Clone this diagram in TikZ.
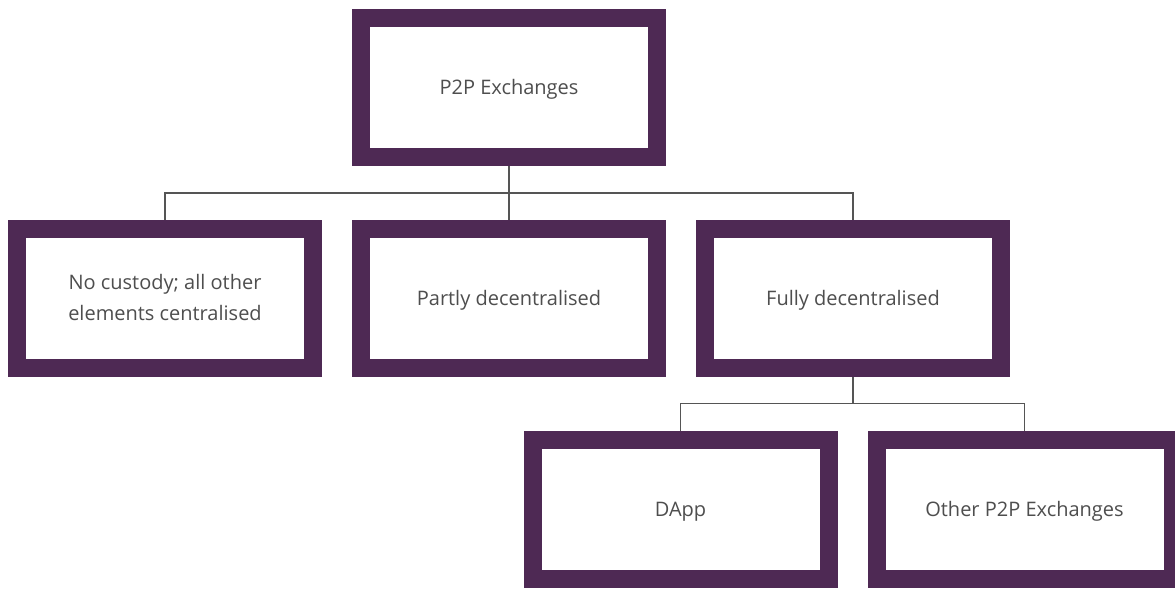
\documentclass[tikz,border=0pt]{standalone}
\usepackage{fontspec}
\setmainfont{Open Sans}
\usetikzlibrary{backgrounds}
\definecolor{boxpurple}{RGB}{78,41,84}
\definecolor{txtgray}{RGB}{78,78,78}
\definecolor{linegray}{RGB}{85,85,85}
\begin{document}
\begin{tikzpicture}[x=1pt,y=-1pt,
  orgbox/.style={draw=boxpurple, line width=18pt, fill=white, minimum width=296pt, minimum height=139pt, inner sep=0pt, align=center, text=txtgray, font=\fontsize{20}{31.5}\selectfont, text height=14.3pt, text depth=0pt},
  twoline/.style={text height=45.8pt},
  conn/.style={draw=linegray, line width=1.3pt}]
\useasboundingbox[clip] (0,0) rectangle (1175,589);
\node[orgbox] (top) at (509,87.5) {P2P Exchanges};
\node[orgbox, twoline] (b1) at (165,298) {No custody; all other\\elements centralised};
\node[orgbox] (b2) at (509,298) {Partly decentralised};
\node[orgbox] (b3) at (853,298) {Fully decentralised};
\node[orgbox] (b4) at (680.5,509) {DApp};
\node[orgbox] (b5) at (1024.5,509) {Other P2P Exchanges};
\coordinate (j1) at (509,193);
\coordinate (j2) at (853,403.5);
\begin{scope}[on background layer]
\fill[white] (0,0) rectangle (1175,589);
\draw[conn] (top.south) -- (j1);
\draw[conn] (j1) -| (b1.north);
\draw[conn] (j1) -- (b2.north);
\draw[conn] (j1) -| (b3.north);
\draw[conn] (b3.south) -- (j2);
\draw[conn] (j2) -| (b4.north);
\draw[conn] (j2) -| (b5.north);
\end{scope}
\end{tikzpicture}
\end{document}
